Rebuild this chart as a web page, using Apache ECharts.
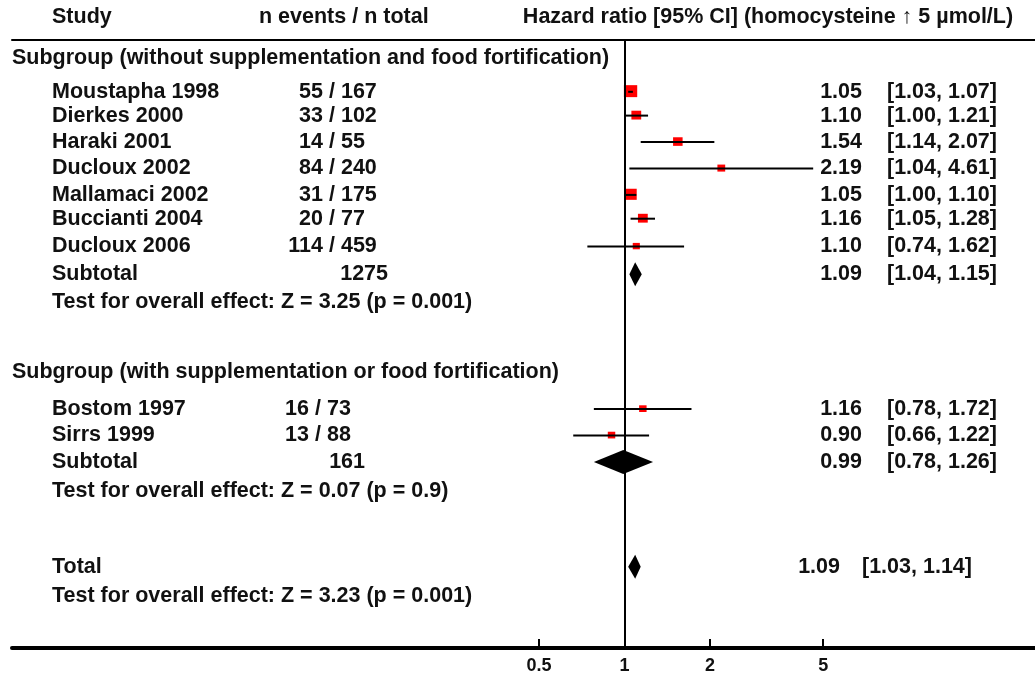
<!DOCTYPE html>
<html>
<head>
<meta charset="utf-8">
<script src="https://cdn.jsdelivr.net/npm/echarts@6/dist/echarts.min.js"></script>
<style>
  html, body { margin: 0; padding: 0; background: #fff; }
  #chart { width: 1035px; height: 675px; }
</style>
</head>
<body>
<div id="chart"></div>
<script>
// individual studies
const studies = ['Moustapha 1998', 'Dierkes 2000', 'Haraki 2001', 'Ducloux 2002', 'Mallamaci 2002',
                 'Buccianti 2004', 'Ducloux 2006', 'Bostom 1997', 'Sirrs 1999'];
const studyGroup = [0, 0, 0, 0, 0, 0, 0, 1, 1];
const events = [55, 33, 14, 84, 31, 20, 114, 16, 13];
const totals = [167, 102, 55, 240, 175, 77, 459, 73, 88];
const hr = [1.05, 1.10, 1.54, 2.19, 1.05, 1.16, 1.10, 1.16, 0.90];
const ciLow = [1.03, 1.00, 1.14, 1.04, 1.00, 1.05, 0.74, 0.78, 0.66];
const ciHigh = [1.07, 1.21, 2.07, 4.61, 1.10, 1.28, 1.62, 1.72, 1.22];
const weights = [35, 19, 18, 12, 30, 19, 10, 11, 11]; // relative
const studyRows = [1.96, 2.86, 3.86, 4.86, 5.86, 6.76, 7.81, 13.96, 14.96];

// pooled estimates
const pooledLabels = ['Subtotal', 'Subtotal', 'Total'];
const pooledN = [1275, 161, null];
const pooledHr = [1.09, 0.99, 1.09];
const pooledLow = [1.04, 0.78, 1.03];
const pooledHigh = [1.15, 1.26, 1.14];
const pooledRows = [8.86, 15.96, 19.93];

const groupTitles = ['Subgroup (without supplementation and food fortification)',
                     'Subgroup (with supplementation or food fortification)'];
const groupRows = [0.7, 12.56];
const effectTests = ['Test for overall effect: Z = 3.25 (p = 0.001)',
                     'Test for overall effect: Z = 0.07 (p = 0.9)',
                     'Test for overall effect: Z = 3.23 (p = 0.001)'];
const effectRows = [9.91, 17.06, 21.03];

const headers = ['Study', 'n events / n total', 'Hazard ratio [95% CI] (homocysteine \u2191 5 \u00b5mol/L)'];
const headerRow = -0.85;
const tickValues = [0.5, 1, 2, 5];

// column layout (pixels)
const FONT = 'bold 21.5px "Liberation Sans", Arial, sans-serif';
const slashX = [329, 315];
const nRight = [388, 365];

// text list built from the arrays above
const texts = [];
texts.push({ t: headers[0], x: 52, row: headerRow, align: 'left' });
texts.push({ t: headers[1], x: 259, row: headerRow, align: 'left' });
texts.push({ t: headers[2], x: 768, row: headerRow, align: 'center' });
groupTitles.forEach((g, i) => texts.push({ t: g, x: 12, row: groupRows[i], align: 'left' }));
studies.forEach((s, i) => {
  const g = studyGroup[i];
  texts.push({ t: s, x: 52, row: studyRows[i], align: 'left' });
  texts.push({ t: events[i] + ' ', x: slashX[g], row: studyRows[i], align: 'right' });
  texts.push({ t: '/ ' + totals[i], x: slashX[g], row: studyRows[i], align: 'left' });
  texts.push({ t: hr[i].toFixed(2), x: 862, row: studyRows[i], align: 'right' });
  texts.push({ t: '[' + ciLow[i].toFixed(2) + ', ' + ciHigh[i].toFixed(2) + ']', x: 887, row: studyRows[i], align: 'left' });
});
pooledLabels.forEach((p, i) => {
  const isTotal = pooledN[i] === null;
  texts.push({ t: p, x: 52, row: pooledRows[i], align: 'left' });
  if (!isTotal) texts.push({ t: String(pooledN[i]), x: nRight[i], row: pooledRows[i], align: 'right' });
  texts.push({ t: pooledHr[i].toFixed(2), x: isTotal ? 840 : 862, row: pooledRows[i], align: 'right' });
  texts.push({ t: '[' + pooledLow[i].toFixed(2) + ', ' + pooledHigh[i].toFixed(2) + ']',
               x: isTotal ? 862 : 887, row: pooledRows[i], align: 'left' });
});
effectTests.forEach((e, i) => texts.push({ t: e, x: 52, row: effectRows[i], align: 'left' }));

const chart = echarts.init(document.getElementById('chart'));

const option = {
  animation: false,
  backgroundColor: '#fff',
  grid: { left: 12, right: 0, top: 40, bottom: 27 },
  xAxis: [{
    type: 'log',
    position: 'bottom',
    min: 0.007,
    max: 27.8,
    axisLine: { onZero: false, lineStyle: { color: '#000', width: 4 } },
    axisTick: { show: true, inside: true, length: 9, customValues: tickValues, lineStyle: { color: '#000', width: 2 } },
    axisLabel: {
      customValues: tickValues,
      formatter: v => String(v),
      color: '#111',
      fontFamily: '"Liberation Sans", Arial, sans-serif',
      fontWeight: 'bold',
      fontSize: 18,
      margin: 9
    },
    splitLine: { show: false }
  }, {
    type: 'log',
    position: 'top',
    min: 0.007,
    max: 27.8,
    axisLine: { onZero: false, lineStyle: { color: '#000', width: 2 } },
    axisTick: { show: false },
    axisLabel: { show: false },
    splitLine: { show: false }
  }],
  yAxis: { type: 'value', inverse: true, min: 0, max: 23, show: false },
  series: [
    {
      name: 'studies',
      type: 'custom',
      data: studies.map((s, i) => [hr[i], studyRows[i], ciLow[i], ciHigh[i], weights[i]]),
      renderItem: (params, api) => {
        const p = api.coord([api.value(0), api.value(1)]);
        const lo = api.coord([api.value(2), api.value(1)]);
        const hi = api.coord([api.value(3), api.value(1)]);
        const s = 2.25 * Math.sqrt(api.value(4));
        return {
          type: 'group',
          children: [
            { type: 'rect', shape: { x: p[0] - s / 2, y: p[1] - s / 2, width: s, height: s * 0.9 }, style: { fill: '#ff0000' } },
            { type: 'line', shape: { x1: lo[0], y1: p[1], x2: hi[0], y2: p[1] }, style: { stroke: '#000', lineWidth: 2 } }
          ]
        };
      }
    },
    {
      name: 'pooled',
      type: 'custom',
      data: pooledHr.map((v, i) => [v, pooledRows[i], pooledLow[i], pooledHigh[i]]),
      renderItem: (params, api) => {
        const p = api.coord([api.value(0), api.value(1)]);
        const lo = api.coord([api.value(2), api.value(1)]);
        const hi = api.coord([api.value(3), api.value(1)]);
        const h = 12;
        return {
          type: 'polygon',
          shape: { points: [[lo[0], p[1]], [p[0], p[1] - h], [hi[0], p[1]], [p[0], p[1] + h]] },
          style: { fill: '#000' }
        };
      },
      markLine: {
        silent: true,
        symbol: ['none', 'none'],
        label: { show: false },
        lineStyle: { color: '#000', width: 2, type: 'solid' },
        data: [{ xAxis: 1 }]
      }
    },
    {
      name: 'text',
      type: 'custom',
      data: texts.map((t, i) => [1, t.row, i]),
      renderItem: (params, api) => {
        const t = texts[api.value(2)];
        const y = api.coord([1, api.value(1)])[1];
        return {
          type: 'text',
          x: t.x,
          y: y,
          style: { text: t.t, font: FONT, fill: '#111', align: t.align, verticalAlign: 'middle' }
        };
      }
    }
  ]
};

chart.setOption(option);
</script>
</body>
</html>
